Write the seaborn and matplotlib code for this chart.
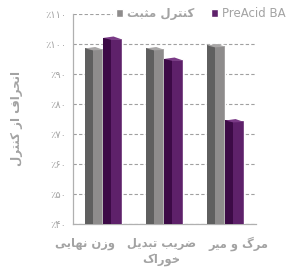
import matplotlib
matplotlib.use("Agg")
import matplotlib.pyplot as plt
import matplotlib.transforms as mtransforms
from matplotlib.patches import Rectangle, Polygon
import seaborn as sns
import pandas as pd

# ---- data ----
categories = ["وزن نهایی", "ضریب تبدیل\nخوراک", "مرگ و میر"]
series_names = ["کنترل مثبت", "PreAcid BA"]
control_values = [98.5, 98.5, 99.5]
preacid_values = [102.0, 95.0, 74.5]
y_ticks = [40, 50, 60, 70, 80, 90, 100, 110]
y_tick_labels = ["٪۴۰", "٪۵۰", "٪۶۰", "٪۷۰", "٪۸۰", "٪۹۰", "٪۱۰۰", "٪۱۱۰"]
y_label = "انحراف از کنترل"

# ---- minimal Persian shaping (presentation forms, visual order) ----
FORMS = {
    'ا': ('\uFE8D', '\uFE8E', None, None),
    'ب': ('\uFE8F', '\uFE90', '\uFE91', '\uFE92'),
    'ت': ('\uFE95', '\uFE96', '\uFE97', '\uFE98'),
    'ث': ('\uFE99', '\uFE9A', '\uFE9B', '\uFE9C'),
    'ح': ('\uFEA1', '\uFEA2', '\uFEA3', '\uFEA4'),
    'خ': ('\uFEA5', '\uFEA6', '\uFEA7', '\uFEA8'),
    'د': ('\uFEA9', '\uFEAA', None, None),
    'ر': ('\uFEAD', '\uFEAE', None, None),
    'ز': ('\uFEAF', '\uFEB0', None, None),
    'ض': ('\uFEBD', '\uFEBE', '\uFEBF', '\uFEC0'),
    'ف': ('\uFED1', '\uFED2', '\uFED3', '\uFED4'),
    'ل': ('\uFEDD', '\uFEDE', '\uFEDF', '\uFEE0'),
    'م': ('\uFEE1', '\uFEE2', '\uFEE3', '\uFEE4'),
    'ن': ('\uFEE5', '\uFEE6', '\uFEE7', '\uFEE8'),
    'ه': ('\uFEE9', '\uFEEA', '\uFEEB', '\uFEEC'),
    'و': ('\uFEED', '\uFEEE', None, None),
    'ی': ('\uFBFC', '\uFBFD', '\uFBFE', '\uFBFF'),
    'ک': ('\uFB8E', '\uFB8F', '\uFB90', '\uFB91'),
    'گ': ('\uFB92', '\uFB93', '\uFB94', '\uFB95'),
}


def shape_line(s):
    out = []
    for i, c in enumerate(s):
        if c not in FORMS:
            out.append(c)
            continue
        prev = s[i - 1] if i > 0 else None
        nxt = s[i + 1] if i + 1 < len(s) else None
        jp = prev in FORMS and FORMS[prev][2] is not None
        jn = FORMS[c][2] is not None and nxt in FORMS
        if jp and jn:
            out.append(FORMS[c][3])
        elif jp:
            out.append(FORMS[c][1])
        elif jn:
            out.append(FORMS[c][2])
        else:
            out.append(FORMS[c][0])
    if any(ch in FORMS for ch in s):
        return "".join(reversed(out))
    return "".join(out)


def shape(s):
    return "\n".join(shape_line(l) for l in s.split("\n"))


df = pd.DataFrame({
    "cat": categories * 2,
    "series": [series_names[0]] * 3 + [series_names[1]] * 3,
    "value": control_values + preacid_values,
})

sns.set_theme(style="white")
plt.rcParams["font.family"] = ["DejaVu Sans"]

front = {series_names[0]: "#8e8c8c", series_names[1]: "#5e216a"}
side = {series_names[0]: "#5f5f5f", series_names[1]: "#3c0a46"}
top = {series_names[0]: "#a8a6a6", series_names[1]: "#7a3a86"}
text_col = "#a3a3a3"

fig = plt.figure(figsize=(2.87, 2.78), dpi=100)
ax = fig.add_axes([0.254, 0.194, 0.638, 0.756])

sns.barplot(data=df, x="cat", y="value", hue="series", hue_order=series_names,
            order=categories, palette=front, width=0.6, gap=0, ax=ax,
            saturation=1, legend=True, zorder=3)

ax.set_ylim(40, 110)
ax.set_xlim(-0.5, 2.5)

# pseudo-3D shading derived from the bar patches
for cont, name in zip(ax.containers, series_names):
    for p in cont.patches:
        x0, w, h = p.get_x(), p.get_width(), p.get_height()
        ax.add_patch(Rectangle((x0, 40), w * 0.42, h - 40, facecolor=side[name],
                               edgecolor="none", zorder=4))
        d = 1.6
        ax.add_patch(Polygon([(x0, h), (x0 + w * 0.42, h - d * 0.4), (x0 + w, h - d * 0.3),
                              (x0 + w * 0.55, h + d * 0.3)],
                             closed=True, facecolor=top[name], edgecolor="none", zorder=4))

ax.set_yticks(y_ticks)
ax.set_yticklabels(y_tick_labels, fontsize=7, color=text_col)
ax.set_xticks(range(len(categories)))
ax.set_xticklabels([shape(c) for c in categories], fontsize=8.3, fontweight="bold",
                   color=text_col, linespacing=1.35)
ax.tick_params(axis="y", length=2, color="#b0b0b0", pad=3)
ax.tick_params(axis="x", length=0, pad=9)
# nudge labels horizontally as in the reference layout
for lab, dx in zip(ax.get_xticklabels(), [-18, -3, 13]):
    lab.set_transform(lab.get_transform() +
                      mtransforms.ScaledTranslation(dx / 100, 0, fig.dpi_scale_trans))
ax.set_xlabel("")
ax.set_ylabel(shape(y_label), fontsize=8.5, fontweight="bold", color=text_col, labelpad=16)

ax.yaxis.grid(True, linestyle=(0, (3, 2)), color="#a0a0a0", linewidth=0.8)
ax.set_axisbelow(True)
for s in ["top", "right"]:
    ax.spines[s].set_visible(False)
for s in ["left", "bottom"]:
    ax.spines[s].set_color("#b0b0b0")
    ax.spines[s].set_linewidth(0.9)

leg = ax.legend(loc="center left", bbox_to_anchor=(0.22, 1.0), ncol=2, frameon=True,
                fontsize=8.5, handlelength=0.6, handleheight=0.6, handletextpad=0.35,
                columnspacing=1.4, borderaxespad=0, borderpad=0.2)
leg.get_frame().set_facecolor("white")
leg.get_frame().set_edgecolor("none")
leg.get_frame().set_alpha(1)
leg.set_zorder(10)
for t in leg.get_texts():
    raw = t.get_text()
    t.set_text(shape(raw))
    t.set_color(text_col)
    if any(ch in FORMS for ch in raw):
        t.set_fontweight("bold")

fig.savefig("out.png", dpi=100)
